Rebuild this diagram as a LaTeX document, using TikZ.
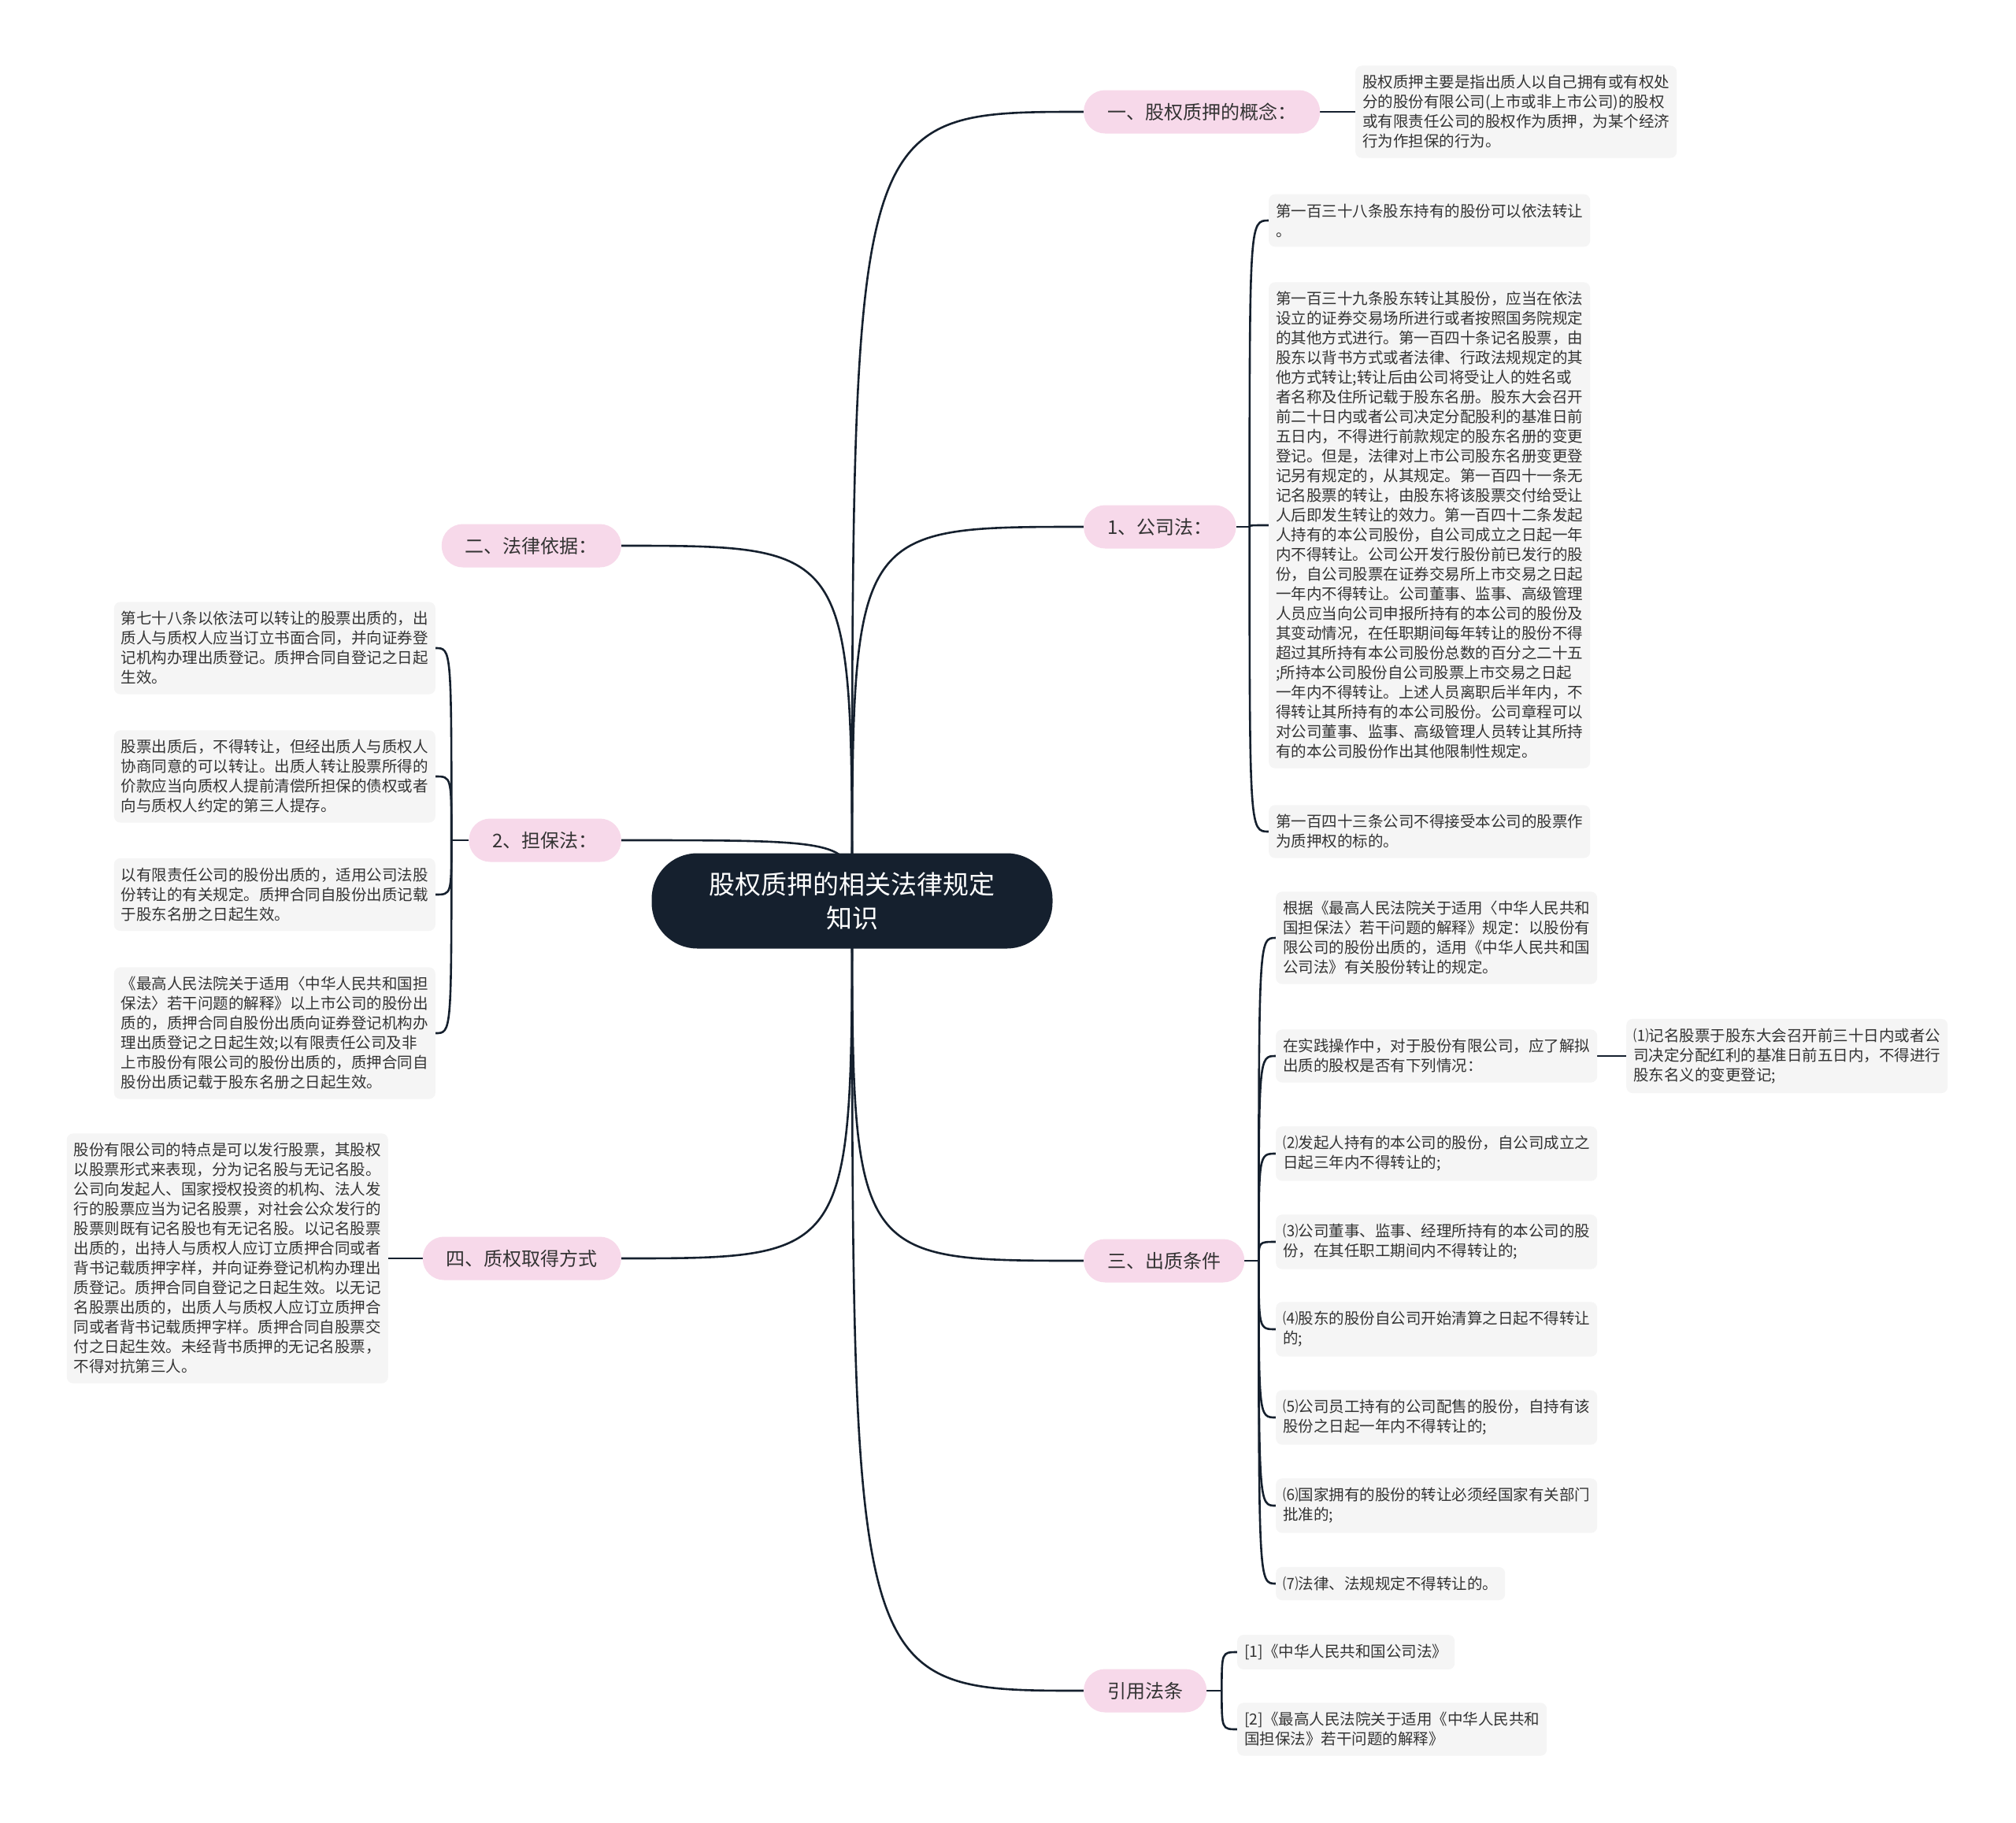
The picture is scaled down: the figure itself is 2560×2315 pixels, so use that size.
\documentclass[tikz,border=0pt]{standalone}
\usepackage{fontspec}
\setmainfont{Noto Sans CJK SC}
\usetikzlibrary{backgrounds}
\definecolor{navy}{HTML}{15202E}
\definecolor{pinkbg}{HTML}{F7D9EA}
\definecolor{leafbg}{HTML}{F5F5F5}
\definecolor{ink}{HTML}{333333}

\begin{document}
\begin{tikzpicture}[x=1pt,y=-1pt,
  hub/.style={fill=navy,text=white,rounded corners=58pt,minimum width=509pt,minimum height=121pt,align=center,font=\fontsize{33}{43}\selectfont},
  topic/.style={fill=pinkbg,text=ink,rounded corners=27pt,minimum height=55pt,inner xsep=30pt,font=\fontsize{24}{28}\selectfont},
  leaf/.style={fill=leafbg,text=ink,rounded corners=8pt,inner xsep=9pt,inner ysep=12pt,align=left,font=\fontsize{19.5}{25}\selectfont},
  link/.style={draw=navy,line width=2.6pt}]
\useasboundingbox (0,0) rectangle (2560,2315);
\node[hub] (hub) at (1082,1144) {股权质押的相关法律规定\\知识};
% main topics
\node[topic,anchor=west] (t1) at (1376,142) {一、股权质押的概念：};
\node[topic,anchor=west] (t2) at (1376,669) {1、公司法：};
\node[topic,anchor=west] (t3) at (1376,1601) {三、出质条件};
\node[topic,anchor=west] (t4) at (1376,2147) {引用法条};
\node[topic,anchor=east] (t5) at (789,693) {二、法律依据：};
\node[topic,anchor=east] (t6) at (789,1067) {2、担保法：};
\node[topic,anchor=east] (t7) at (789,1598) {四、质权取得方式};
% right leaves
\node[leaf,anchor=west] (l1) at (1721,142) {股权质押主要是指出质人以自己拥有或有权处\\分的股份有限公司(上市或非上市公司)的股权\\或有限责任公司的股权作为质押，为某个经济\\行为作担保的行为。};
\node[leaf,anchor=west] (l2a) at (1611,280) {第一百三十八条股东持有的股份可以依法转让\\。};
\node[leaf,anchor=west] (l2b) at (1611,667) {第一百三十九条股东转让其股份，应当在依法\\设立的证券交易场所进行或者按照国务院规定\\的其他方式进行。第一百四十条记名股票，由\\股东以背书方式或者法律、行政法规规定的其\\他方式转让;转让后由公司将受让人的姓名或\\者名称及住所记载于股东名册。股东大会召开\\前二十日内或者公司决定分配股利的基准日前\\五日内，不得进行前款规定的股东名册的变更\\登记。但是，法律对上市公司股东名册变更登\\记另有规定的，从其规定。第一百四十一条无\\记名股票的转让，由股东将该股票交付给受让\\人后即发生转让的效力。第一百四十二条发起\\人持有的本公司股份，自公司成立之日起一年\\内不得转让。公司公开发行股份前已发行的股\\份，自公司股票在证券交易所上市交易之日起\\一年内不得转让。公司董事、监事、高级管理\\人员应当向公司申报所持有的本公司的股份及\\其变动情况，在任职期间每年转让的股份不得\\超过其所持有本公司股份总数的百分之二十五\\;所持本公司股份自公司股票上市交易之日起\\一年内不得转让。上述人员离职后半年内，不\\得转让其所持有的本公司股份。公司章程可以\\对公司董事、监事、高级管理人员转让其所持\\有的本公司股份作出其他限制性规定。};
\node[leaf,anchor=west] (l2c) at (1611,1056) {第一百四十三条公司不得接受本公司的股票作\\为质押权的标的。};
\node[leaf,anchor=west] (l3a) at (1620,1191) {根据《最高人民法院关于适用〈中华人民共和\\国担保法〉若干问题的解释》规定：以股份有\\限公司的股份出质的，适用《中华人民共和国\\公司法》有关股份转让的规定。};
\node[leaf,anchor=west] (l3b) at (1620,1341) {在实践操作中，对于股份有限公司，应了解拟\\出质的股权是否有下列情况：};
\node[leaf,anchor=west] (l3b1) at (2065,1341) {⑴记名股票于股东大会召开前三十日内或者公\\司决定分配红利的基准日前五日内，不得进行\\股东名义的变更登记;};
\node[leaf,anchor=west] (l3c) at (1620,1465) {⑵发起人持有的本公司的股份，自公司成立之\\日起三年内不得转让的;};
\node[leaf,anchor=west] (l3d) at (1620,1577) {⑶公司董事、监事、经理所持有的本公司的股\\份，在其任职工期间内不得转让的;};
\node[leaf,anchor=west] (l3e) at (1620,1688) {⑷股东的股份自公司开始清算之日起不得转让\\的;};
\node[leaf,anchor=west] (l3f) at (1620,1800) {⑸公司员工持有的公司配售的股份，自持有该\\股份之日起一年内不得转让的;};
\node[leaf,anchor=west] (l3g) at (1620,1912) {⑹国家拥有的股份的转让必须经国家有关部门\\批准的;};
\node[leaf,anchor=west] (l3h) at (1620,2011) {⑺法律、法规规定不得转让的。};
\node[leaf,anchor=west] (l4a) at (1571,2098) {[1]《中华人民共和国公司法》};
\node[leaf,anchor=west] (l4b) at (1571,2196) {[2]《最高人民法院关于适用《中华人民共和\\国担保法》若干问题的解释》};
% left leaves
\node[leaf,anchor=east] (l6a) at (553,823) {第七十八条以依法可以转让的股票出质的，出\\质人与质权人应当订立书面合同，并向证券登\\记机构办理出质登记。质押合同自登记之日起\\生效。};
\node[leaf,anchor=east] (l6b) at (553,986) {股票出质后，不得转让，但经出质人与质权人\\协商同意的可以转让。出质人转让股票所得的\\价款应当向质权人提前清偿所担保的债权或者\\向与质权人约定的第三人提存。};
\node[leaf,anchor=east] (l6c) at (553,1136) {以有限责任公司的股份出质的，适用公司法股\\份转让的有关规定。质押合同自股份出质记载\\于股东名册之日起生效。};
\node[leaf,anchor=east] (l6d) at (553,1312) {《最高人民法院关于适用〈中华人民共和国担\\保法〉若干问题的解释》以上市公司的股份出\\质的，质押合同自股份出质向证券登记机构办\\理出质登记之日起生效;以有限责任公司及非\\上市股份有限公司的股份出质的，质押合同自\\股份出质记载于股东名册之日起生效。};
\node[leaf,anchor=east] (l7) at (493,1598) {股份有限公司的特点是可以发行股票，其股权\\以股票形式来表现，分为记名股与无记名股。\\公司向发起人、国家授权投资的机构、法人发\\行的股票应当为记名股票，对社会公众发行的\\股票则既有记名股也有无记名股。以记名股票\\出质的，出持人与质权人应订立质押合同或者\\背书记载质押字样，并向证券登记机构办理出\\质登记。质押合同自登记之日起生效。以无记\\名股票出质的，出质人与质权人应订立质押合\\同或者背书记载质押字样。质押合同自股票交\\付之日起生效。未经背书质押的无记名股票，\\不得对抗第三人。};
% junctions
\coordinate (j2) at ([xshift=17pt]t2.east);
\coordinate (j3) at ([xshift=18pt]t3.east);
\coordinate (j4) at ([xshift=19pt]t4.east);
\coordinate (j6) at ([xshift=-22pt]t6.west);
\begin{scope}[on background layer]
\fill[white] (0,0) rectangle (2560,2315);
\foreach \t in {t1,t2,t3,t4}
  \draw[link] (hub.center) .. controls (hub.center |- \t.west) .. (\t.west);
\foreach \t in {t5,t6,t7}
  \draw[link] (hub.center) .. controls (hub.center |- \t.east) .. (\t.east);
\draw[link] (t1.east) -- (l1.west);
\draw[link] (t7.west) -- (l7.east);
\draw[link] (l3b.east) -- (l3b1.west);
\draw[link] (t2.east) -- (j2);
\foreach \l in {l2a,l2b,l2c}
  \draw[link] (j2) .. controls (j2 |- \l.west) .. (\l.west);
\draw[link] (t3.east) -- (j3);
\foreach \l in {l3a,l3b,l3c,l3d,l3e,l3f,l3g,l3h}
  \draw[link] (j3) .. controls (j3 |- \l.west) .. (\l.west);
\draw[link] (t4.east) -- (j4);
\foreach \l in {l4a,l4b}
  \draw[link] (j4) .. controls (j4 |- \l.west) .. (\l.west);
\draw[link] (t6.west) -- (j6);
\foreach \l in {l6a,l6b,l6c,l6d}
  \draw[link] (j6) .. controls (j6 |- \l.east) .. (\l.east);
\end{scope}
\end{tikzpicture}
\end{document}
